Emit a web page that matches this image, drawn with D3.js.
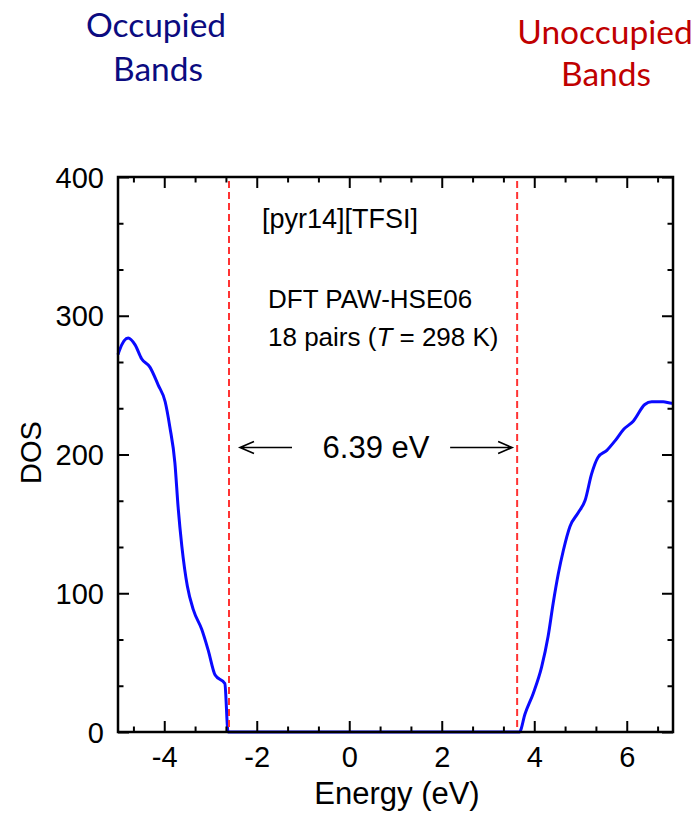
<!DOCTYPE html>
<html>
<head>
<meta charset="utf-8">
<script src="https://cdn.jsdelivr.net/npm/d3@7"></script>
<style>
  body { margin: 0; background: #fff; }
  svg { display: block; }
</style>
</head>
<body>
<div id="chart"></div>
<script>
// occupied bands (valence side)
var occ_energy = [-5.0, -4.97, -4.78, -4.63, -4.49, -4.31, -4.13, -3.98, -3.88, -3.77, -3.70, -3.62, -3.50, -3.37, -3.19, -3.05, -2.90, -2.69, -2.62];
var occ_dos    = [272, 275, 284, 279, 269, 263, 250, 238, 220, 194, 162, 134, 105, 88, 74, 59, 41, 35, 0];
// unoccupied bands (conduction side)
var unocc_energy = [3.68, 3.80, 3.98, 4.16, 4.30, 4.41, 4.52, 4.63, 4.77, 4.95, 5.10, 5.24, 5.38, 5.57, 5.75, 5.93, 6.14, 6.39, 6.54, 6.79, 6.97, 7.0];
var unocc_dos    = [0, 13, 28, 47, 69, 93, 114, 131, 148, 158, 167, 186, 198, 203, 210, 218, 224, 236, 238, 238, 237, 237];
// band edges (dashed lines)
var band_edges = [-2.6, 3.63];
var x_ticks = [-4, -2, 0, 2, 4, 6];
var y_ticks = [0, 100, 200, 300, 400];

var width = 700, height = 814;
var left = 118, right = 673, top_ = 177, bottom = 732;

var svg = d3.select("#chart").append("svg")
            .attr("width", width)
            .attr("height", height);

var x = d3.scaleLinear().domain([-5, 7]).range([left, right]);
var y = d3.scaleLinear().domain([0, 400]).range([bottom, top_]);

// join both bands with the zero stretch across the gap
var curve_data = [];
occ_energy.forEach(function(e, i){ curve_data.push([e, occ_dos[i]]); });
unocc_energy.forEach(function(e, i){ curve_data.push([e, unocc_dos[i]]); });

var line = d3.line()
             .x(function(d){ return x(d[0]); })
             .y(function(d){ return y(d[1]); })
             .curve(d3.curveMonotoneX);

svg.append("path")
   .datum(curve_data)
   .attr("fill", "none")
   .attr("stroke", "#0a0aff")
   .attr("stroke-width", 3)
   .attr("stroke-linejoin", "round")
   .attr("d", line);

svg.selectAll(".edge")
   .data(band_edges)
   .enter().append("line")
   .attr("class", "edge")
   .attr("x1", function(d){ return x(d); })
   .attr("x2", function(d){ return x(d); })
   .attr("y1", y(400) + 4)
   .attr("y2", y(0))
   .attr("stroke", "#ff3333")
   .attr("stroke-width", 2)
   .attr("stroke-dasharray", "7,4");

// axes, ticks pointing inward on all four sides
var minor_x = d3.range(-4 - 2/3, 7, 2/3).filter(function(v){ return Math.abs(v - Math.round(v / 2) * 2) > 0.01; });
var minor_y = d3.range(0, 400, 100/3).filter(function(v){ return Math.abs(v - Math.round(v / 100) * 100) > 0.5; });
var fmt = function(d){ return String(d); };

function addAxis(axis, tx, ty, labels){
    var g = svg.append("g").attr("transform", "translate(" + tx + "," + ty + ")").call(axis);
    g.select(".domain").remove();
    g.selectAll("line").attr("stroke", "black").attr("stroke-width", 2);
    g.selectAll("text").style("font-family", "'Liberation Sans', Arial, sans-serif")
                       .style("font-size", "29px").attr("fill", "black");
    if (!labels) g.selectAll("text").remove();
    return g;
}

var gx = addAxis(d3.axisBottom(x).tickValues(x_ticks).tickSize(-11).tickFormat(fmt), 0, bottom, true);
gx.selectAll("text").attr("y", 0).attr("dy", "1.22em");
addAxis(d3.axisBottom(x).tickValues(minor_x).tickSize(-5.5).tickFormat(""), 0, bottom, false);
addAxis(d3.axisTop(x).tickValues(x_ticks).tickSize(-11), 0, top_, false);
addAxis(d3.axisTop(x).tickValues(minor_x).tickSize(-5.5), 0, top_, false);

var gy = addAxis(d3.axisLeft(y).tickValues(y_ticks).tickSize(-11).tickFormat(fmt), left, 0, true);
gy.selectAll("text").attr("x", -14).attr("dy", "0.35em");
addAxis(d3.axisLeft(y).tickValues(minor_y).tickSize(-5.5).tickFormat(""), left, 0, false);
addAxis(d3.axisRight(y).tickValues(y_ticks).tickSize(-11), right, 0, false);
addAxis(d3.axisRight(y).tickValues(minor_y).tickSize(-5.5), right, 0, false);

svg.append("rect")
   .attr("x", left).attr("y", top_)
   .attr("width", right - left).attr("height", bottom - top_)
   .attr("fill", "none")
   .attr("stroke", "black")
   .attr("stroke-width", 2.5);

// axis titles
var helv = "'Liberation Sans', Arial, sans-serif";
svg.append("text")
   .attr("x", 397).attr("y", 804)
   .attr("text-anchor", "middle")
   .style("font-family", helv).style("font-size", "31px")
   .text("Energy (eV)");
svg.append("text")
   .attr("transform", "translate(41," + (y(200) - 2) + ") rotate(-90)")
   .attr("text-anchor", "middle")
   .style("font-family", helv).style("font-size", "29px")
   .text("DOS");

// annotations
svg.append("text").attr("x", 262).attr("y", 228)
   .style("font-family", helv).style("font-size", "27px")
   .text("[pyr14][TFSI]");
svg.append("text").attr("x", 268).attr("y", 308)
   .style("font-family", helv).style("font-size", "26px")
   .text("DFT PAW-HSE06");
var t18 = svg.append("text").attr("x", 268).attr("y", 346)
   .style("font-family", helv).style("font-size", "26px");
t18.append("tspan").text("18 pairs (");
t18.append("tspan").style("font-style", "italic").text("T");
t18.append("tspan").text(" = 298 K)");

svg.append("text").attr("x", 376).attr("y", 458)
   .attr("text-anchor", "middle")
   .style("font-family", helv).style("font-size", "31px")
   .text("6.39 eV");

// gap arrows
var arrow_y = y(205);
function arrow(x_tail, x_tip){
    var dir = x_tip > x_tail ? 1 : -1;
    var p = d3.path();
    p.moveTo(x_tail, arrow_y); p.lineTo(x_tip, arrow_y);
    p.moveTo(x_tip - dir * 14, arrow_y - 6); p.lineTo(x_tip, arrow_y); p.lineTo(x_tip - dir * 14, arrow_y + 6);
    svg.append("path").attr("d", p.toString())
       .attr("fill", "none").attr("stroke", "black").attr("stroke-width", 1.6);
}
arrow(x(band_edges[0]) + 63, x(band_edges[0]) + 11);
arrow(x(band_edges[1]) - 67, x(band_edges[1]) - 5);

// band labels above the chart
var sans = "Lato, 'Open Sans', sans-serif";
var occ = svg.append("text").attr("text-anchor", "middle")
             .style("font-family", sans).style("font-size", "33.5px").attr("fill", "#0b0b80");
occ.append("tspan").attr("x", 156).attr("y", 37).text("Occupied");
occ.append("tspan").attr("x", 158).attr("y", 81).text("Bands");
var unocc = svg.append("text").attr("text-anchor", "middle")
               .style("font-family", sans).style("font-size", "33.5px").attr("fill", "#c00000");
unocc.append("tspan").attr("x", 605).attr("y", 44).text("Unoccupied");
unocc.append("tspan").attr("x", 606).attr("y", 86).text("Bands");
</script>
</body>
</html>
